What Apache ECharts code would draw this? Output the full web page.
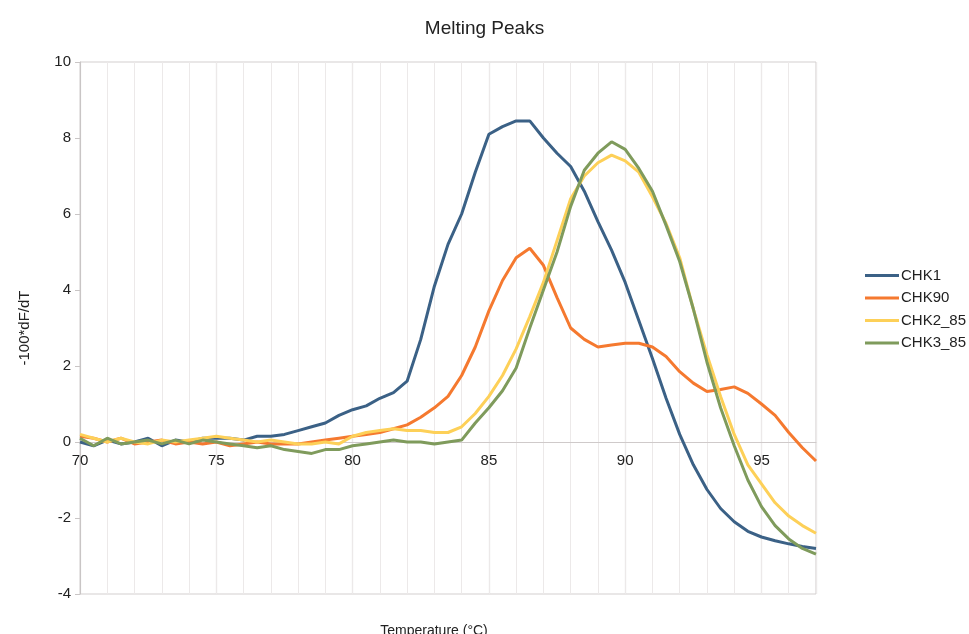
<!DOCTYPE html>
<html>
<head>
<meta charset="utf-8">
<script src="https://cdn.jsdelivr.net/npm/echarts@6/dist/echarts.min.js"></script>
<style>html,body{margin:0;padding:0;background:#fff;}#c{width:969px;height:634px;}</style>
</head>
<body>
<div id="c"></div>
<script>
const temps = [70,70.5,71,71.5,72,72.5,73,73.5,74,74.5,75,75.5,76,76.5,77,77.5,78,78.5,79,79.5,80,80.5,81,81.5,82,82.5,83,83.5,84,84.5,85,85.5,86,86.5,87,87.5,88,88.5,89,89.5,90,90.5,91,91.5,92,92.5,93,93.5,94,94.5,95,95.5,96,96.5,97];
const chk1 = [0.0,-0.1,0.05,-0.05,0.0,0.1,-0.1,0.05,0.0,0.1,0.1,0.1,0.05,0.15,0.15,0.2,0.3,0.4,0.5,0.7,0.85,0.95,1.15,1.3,1.6,2.7,4.1,5.2,6.0,7.1,8.1,8.3,8.45,8.45,8.0,7.6,7.25,6.6,5.8,5.05,4.2,3.2,2.2,1.15,0.2,-0.6,-1.25,-1.75,-2.1,-2.35,-2.5,-2.6,-2.68,-2.75,-2.8];
const chk90 = [0.15,0.1,0.0,0.1,-0.05,0.0,0.05,-0.05,0.0,-0.05,0.0,-0.1,-0.05,0.0,-0.05,-0.05,-0.05,0.0,0.05,0.1,0.15,0.2,0.25,0.35,0.45,0.65,0.9,1.2,1.75,2.5,3.45,4.25,4.85,5.1,4.65,3.8,3.0,2.7,2.5,2.55,2.6,2.6,2.5,2.25,1.85,1.55,1.33,1.38,1.45,1.28,1.0,0.7,0.25,-0.15,-0.5];
const chk2_85 = [0.2,0.1,0.0,0.1,0.0,-0.05,0.05,0.0,0.05,0.1,0.15,0.1,0.05,0.0,0.05,0.0,-0.05,-0.05,0.0,-0.05,0.15,0.25,0.3,0.35,0.3,0.3,0.25,0.25,0.4,0.75,1.2,1.75,2.45,3.3,4.2,5.3,6.4,7.0,7.35,7.55,7.4,7.1,6.45,5.75,4.85,3.5,2.3,1.2,0.2,-0.6,-1.1,-1.6,-1.95,-2.2,-2.4];
const chk3_85 = [0.1,-0.1,0.1,-0.05,0.0,0.05,-0.05,0.05,-0.05,0.05,0.0,-0.05,-0.1,-0.15,-0.1,-0.2,-0.25,-0.3,-0.2,-0.2,-0.1,-0.05,0.0,0.05,0.0,0.0,-0.05,0.0,0.05,0.5,0.9,1.35,1.95,3.0,4.0,5.0,6.2,7.15,7.6,7.9,7.7,7.2,6.6,5.7,4.75,3.5,2.1,0.9,-0.1,-1.0,-1.7,-2.2,-2.55,-2.8,-2.95];
const seriesNames = ['CHK1','CHK90','CHK2_85','CHK3_85'];
const seriesValues = [chk1, chk90, chk2_85, chk3_85];
const colors = ['#3b6186','#f5792f','#fdd058','#7f9b5c'];
const font = 'Liberation Sans, Arial, Helvetica, sans-serif';

const chart = echarts.init(document.getElementById('c'));
chart.setOption({
  backgroundColor: '#fff',
  animation: false,
  title: { text: 'Melting Peaks', left: 'center', top: 14, textStyle: { fontFamily: font, fontSize: 19, fontWeight: 'normal', color: '#222' } },
  legend: {
    orient: 'vertical', left: 860, top: 263, itemWidth: 34, itemHeight: 3, itemGap: 7.5, icon: 'rect',
    data: seriesNames,
    textStyle: { fontFamily: font, fontSize: 15, color: '#222', padding: [0, 0, 0, -3] }
  },
  grid: { left: 80, right: 153, top: 62, bottom: 40, outerBoundsMode: 'none', containLabel: false, show: true, borderColor: '#d3cfcf', borderWidth: 1 },
  xAxis: [
    {
      type: 'value', min: 70, max: 97, interval: 5, offset: -152,
      axisLine: { onZero: false, lineStyle: { color: '#cfcaca', width: 1 } },
      axisTick: { show: false },
      axisLabel: { showMaxLabel: false, margin: 11, fontFamily: font, fontSize: 15, color: '#222' },
      splitLine: { show: true, lineStyle: { color: '#d6d2d2', width: 1.2 } }
    },
    {
      type: 'value', min: 70, max: 97, interval: 1, position: 'bottom',
      axisLine: { show: false }, axisTick: { show: false }, axisLabel: { show: false },
      splitLine: { show: true, lineStyle: { color: '#ece9e9', width: 1 } },
      name: 'Temperature (°C)', nameLocation: 'middle', nameGap: 30,
      nameTextStyle: { fontFamily: font, fontSize: 14, color: '#222', padding: [0, 28, 0, 0] }
    }
  ],
  yAxis: {
    type: 'value', min: -4, max: 10, interval: 2,
    name: '-100*dF/dT', nameLocation: 'middle', nameGap: 48,
    nameTextStyle: { fontFamily: font, fontSize: 15, color: '#222' },
    axisLine: { show: true, lineStyle: { color: '#c9c5c5', width: 1 } },
    axisTick: { show: true, length: 5, lineStyle: { color: '#c9c5c5' } },
    axisLabel: { margin: 9, fontFamily: font, fontSize: 15, color: '#222' },
    splitLine: { show: false }
  },
  series: seriesNames.map((n, i) => ({
    name: n, type: 'line', xAxisIndex: 0, symbol: 'none', showSymbol: false,
    data: temps.map((t, k) => [t, seriesValues[i][k]]),
    lineStyle: { color: colors[i], width: 3 },
    itemStyle: { color: colors[i] }
  }))
});
</script>
</body>
</html>
